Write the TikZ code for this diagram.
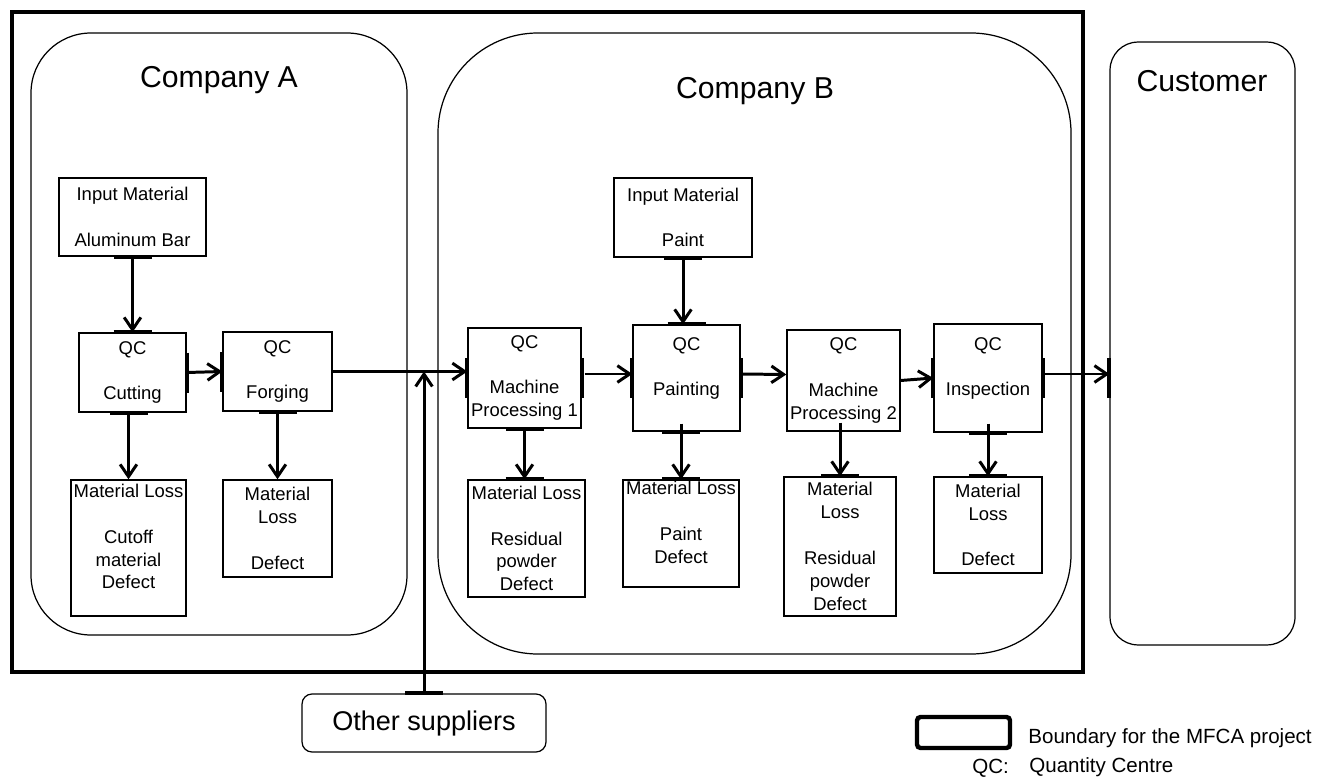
\documentclass[tikz,border=0pt]{standalone}
\usepackage{fontspec}
\setmainfont{Liberation Sans}
\usetikzlibrary{arrows.meta, calc}

\tikzset{
    qc/.style={draw, line width=0.8pt, align=center, inner sep=0pt, font=\fontsize{10.5}{13}\selectfont},
    flow/.style={line width=1.7pt, -{Straight Barb[length=7pt, width=9.5pt]}},
    port/.style={line width=2.2pt},
    firm/.style={line width=0.7pt},
    title/.style={font=\fontsize{17.2}{20}\selectfont, inner sep=0pt},
    legend/.style={anchor=west, inner sep=0pt, font=\fontsize{11.7}{14}\selectfont}
}
\newcommand{\hport}[1]{\draw[port] ($(#1)+(-19,0)$) -- ($(#1)+(19,0)$);}
\newcommand{\vport}[1]{\draw[port] ($(#1)+(0,-20)$) -- ($(#1)+(0,20)$);}

\begin{document}
\begin{tikzpicture}[x=0.02cm, y=-0.02cm]
\useasboundingbox (0,0) rectangle (1327,780);

% boundary of the project and the firms
\draw[line width=2.8pt] (12,12) rectangle (1083,672);
\draw[firm, rounded corners=1.2cm] (31,33) rectangle (407,635);
\draw[firm, rounded corners=2cm] (438,33) rectangle (1071,654);
\node[title] (compA) at (219,80) {Company A};
\node[title] (compB) at (755,91) {Company B};
\node[firm, draw, rounded corners=0.56cm, minimum width=3.7cm, minimum height=12.06cm] (cust) at (1202.5,343.5) {};
\node[title] (custlbl) at (1202,81) {Customer};

% company A
\node[qc, minimum width=2.94cm, minimum height=1.56cm] (inA) at (132.5,217) {Input Material\\ ~\\ Aluminum Bar};
\node[qc, minimum width=2.14cm, minimum height=1.58cm] (cut) at (132.5,372.5) {QC\\ ~\\ Cutting};
\node[qc, minimum width=2.18cm, minimum height=1.58cm] (forg) at (277.5,371.5) {QC\\ ~\\ Forging};
\node[qc, minimum width=2.3cm, minimum height=2.72cm] (lossA1) at (128.5,548) {Material Loss\\ ~\\ Cutoff\\ material\\ Defect\\ ~};
\node[qc, minimum width=2.18cm, minimum height=1.94cm] (lossA2) at (277.5,528.5) {Material\\ Loss\\ ~\\ Defect};

% company B
\node[qc, minimum width=2.76cm, minimum height=1.58cm] (inP) at (683,217.5) {Input Material\\ ~\\ Paint};
\node[qc, minimum width=2.26cm, minimum height=2cm] (mp1) at (524.5,378) {QC\\ ~\\ Machine\\ Processing 1};
\node[qc, minimum width=2.14cm, minimum height=2.12cm] (paint) at (686.5,378) {QC\\ ~\\ Painting\\ ~};
\node[qc, minimum width=2.26cm, minimum height=2.02cm] (mp2) at (843.5,380.5) {QC\\ ~\\ Machine\\ Processing 2};
\node[qc, minimum width=2.16cm, minimum height=2.16cm] (insp) at (988,378) {QC\\ ~\\ Inspection\\ ~};
\node[qc, minimum width=2.34cm, minimum height=2.34cm] (lossMP1) at (526.5,538.5) {Material Loss\\ ~\\ Residual\\ powder\\ Defect};
\node[qc, minimum width=2.32cm, minimum height=2.14cm] (lossP) at (681,533.5) {Material Loss\\ ~\\ Paint\\ Defect\\ ~};
\node[qc, minimum width=2.24cm, minimum height=2.78cm] (lossMP2) at (840,546.5) {Material\\ Loss\\ ~\\ Residual\\ powder\\ Defect};
\node[qc, minimum width=2.16cm, minimum height=1.92cm] (lossI) at (988,525) {Material\\ Loss\\ ~\\ Defect};

\node[firm, draw, rounded corners=0.2cm, minimum width=4.88cm, minimum height=1.16cm, font=\fontsize{15.4}{18}\selectfont] (other) at (424,723) {Other suppliers};

% material flow
\draw[flow] (inA.south) -- (cut.north);
\draw[flow] (cut.east) -- (forg.west);
\draw[flow] (lossA1.north |- cut.south) -- (lossA1.north);
\draw[flow] (forg.south) -- (lossA2.north);
\draw[flow] (forg.east) -- (forg.east -| mp1.west);
\draw[flow] (other.north) -- (other.north |- forg.east);
\draw[flow] ($(mp1.east)+(3,-4)$) -- ($(paint.west)+(0,-4)$);
\draw[flow] (inP.south) -- (inP.south |- paint.north);
\draw[flow] ($(paint.east)+(0,-4)$) -- ($(mp2.west)+(0,-6)$);
\draw[flow] (mp2.east) -- (insp.west);
\draw[flow] ($(insp.east)+(0,-4)$) -- ($(cust.west |- insp.east)+(0,-4)$);
\draw[flow] (mp1.south) -- (mp1.south |- lossMP1.north);
\draw[flow] ($(lossP.north |- paint.south)+(0,-8)$) -- (lossP.north);
\draw[flow] ($(lossMP2.north |- mp2.south)+(0,-9)$) -- (lossMP2.north);
\draw[flow] ($(insp.south)+(0,-9)$) -- (lossI.north);

% connection marks
\hport{inA.south} \hport{cut.north} \hport{lossA1.north |- cut.south} \hport{forg.south}
\hport{inP.south} \hport{paint.north} \hport{lossP.north |- paint.south} \hport{lossP.north}
\hport{mp1.south} \hport{mp1.south |- lossMP1.north} \hport{lossMP2.north}
\hport{insp.south} \hport{lossI.north} \hport{other.north}
\vport{cut.east} \vport{forg.west} \vport{mp1.west} \vport{mp1.east}
\vport{paint.west} \vport{paint.east} \vport{insp.west} \vport{insp.east} \vport{cust.west |- insp.east}

% legend
\node[draw, line width=2.5pt, rounded corners=2pt, minimum width=1.86cm, minimum height=0.62cm] (lgbox) at (963.5,732.5) {};
\node[legend] (lgtext) at (1028,738) {Boundary for the MFCA project};
\node[legend] (lgqc) at (972,768) {QC:};
\node[legend] (lgqctext) at (1029,767) {Quantity Centre};

\end{tikzpicture}
\end{document}
